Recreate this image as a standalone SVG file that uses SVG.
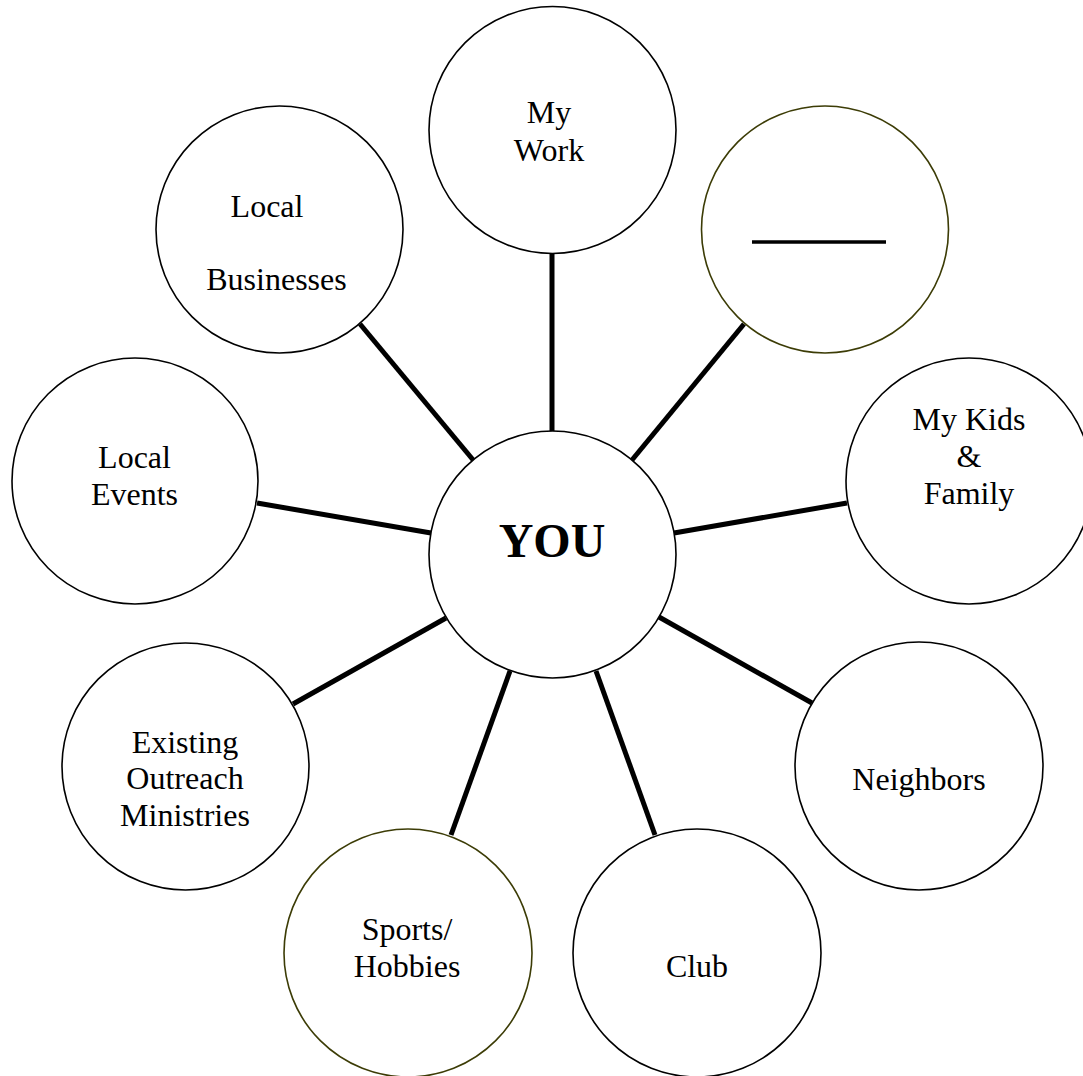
<svg xmlns="http://www.w3.org/2000/svg" width="1083" height="1076" viewBox="0 0 1083 1076">
<style>
.node{fill:#fff;stroke:#000;stroke-width:1.6}
.olive{stroke:#3c3c06}
.lbl{font-family:"Liberation Serif","Times New Roman",serif;font-size:32px;fill:#000;text-anchor:middle}
.big{font-size:48px;font-weight:bold}
.conn{stroke:#000;stroke-width:5;fill:none}
</style>
<rect width="1083" height="1076" fill="#fff"/>
<g id="connectors">
<line class="conn" x1="552" y1="253" x2="552" y2="432"/>
<line class="conn" x1="360" y1="324" x2="474" y2="461"/>
<line class="conn" x1="744" y1="324" x2="632" y2="460"/>
<line class="conn" x1="257" y1="503" x2="431" y2="533"/>
<line class="conn" x1="847" y1="503" x2="674" y2="533"/>
<line class="conn" x1="293" y1="704" x2="446" y2="618"/>
<line class="conn" x1="812" y1="703" x2="659" y2="617"/>
<line class="conn" x1="451" y1="835" x2="510" y2="671"/>
<line class="conn" x1="655" y1="835" x2="596" y2="671"/>
</g>
<g id="node-you">
<circle class="node" cx="552.5" cy="554.5" r="123.5"/>
<text class="lbl big" x="552" y="557">YOU</text>
</g>
<g id="node-mywork">
<circle class="node" cx="552.5" cy="130" r="123.5"/>
<text class="lbl" x="549" y="123">My</text>
<text class="lbl" x="549" y="161">Work</text>
</g>
<g id="node-blank">
<circle class="node olive" cx="825" cy="229.5" r="123.5"/>
<line x1="752" y1="242" x2="886" y2="242" stroke="#000" stroke-width="3.5"/>
</g>
<g id="node-localbusinesses">
<circle class="node" cx="279.5" cy="229.5" r="123.5"/>
<text class="lbl" x="267" y="217">Local</text>
<text class="lbl" x="276.5" y="290">Businesses</text>
</g>
<g id="node-localevents">
<circle class="node" cx="135" cy="481" r="123"/>
<text class="lbl" x="134.5" y="468">Local</text>
<text class="lbl" x="134.5" y="505">Events</text>
</g>
<g id="node-mykids">
<circle class="node" cx="969" cy="481" r="123"/>
<text class="lbl" x="969" y="430">My Kids</text>
<text class="lbl" x="969" y="467">&amp;</text>
<text class="lbl" x="969" y="504">Family</text>
</g>
<g id="node-existing">
<circle class="node" cx="185.5" cy="766.5" r="123.5"/>
<text class="lbl" x="185" y="753">Existing</text>
<text class="lbl" x="185" y="789">Outreach</text>
<text class="lbl" x="185" y="826">Ministries</text>
</g>
<g id="node-neighbors">
<circle class="node" cx="919" cy="766" r="124"/>
<text class="lbl" x="919" y="790">Neighbors</text>
</g>
<g id="node-sports">
<circle class="node olive" cx="408" cy="953" r="124"/>
<text class="lbl" x="407" y="940">Sports/</text>
<text class="lbl" x="407" y="977">Hobbies</text>
</g>
<g id="node-club">
<circle class="node" cx="697" cy="953" r="124"/>
<text class="lbl" x="697" y="977">Club</text>
</g>
</svg>
